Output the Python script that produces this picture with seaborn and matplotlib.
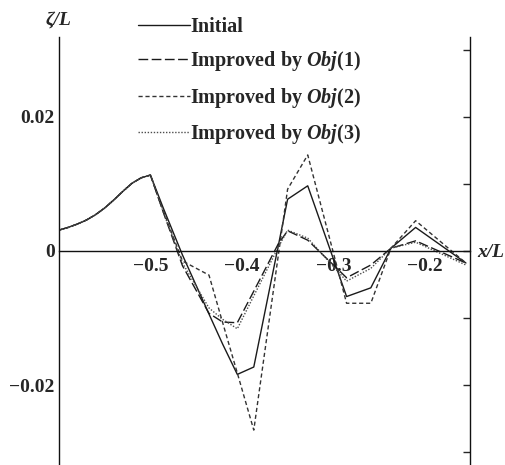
import numpy as np
import pandas as pd
import matplotlib
matplotlib.use("Agg")
import matplotlib.pyplot as plt
import seaborn as sns

# ---- data ----
x_common = [-0.60, -0.59, -0.58, -0.57, -0.56, -0.55, -0.54, -0.53, -0.52, -0.51]
y_common = [0.0031, 0.0035, 0.0040, 0.0046, 0.0054, 0.0064, 0.0076, 0.0089, 0.0101, 0.0109]

x_tail = [-0.500, -0.486, -0.465, -0.436, -0.421, -0.405, -0.387, -0.360, -0.350,
          -0.328, -0.2855, -0.259, -0.237, -0.210, -0.155]
y_initial = [0.0113, 0.0064, -0.0006, -0.0094, -0.0139, -0.0184, -0.0173, 0.0009, 0.0077,
             0.0097, -0.0068, -0.0055, 0.0004, 0.0035, -0.0018]
y_obj1 = [0.0113, 0.0058, -0.0022, -0.0093, -0.0106, -0.0107, -0.0060, 0.0011, 0.0030,
          0.0016, -0.0040, -0.0021, 0.0004, 0.0015, -0.0018]
y_obj2 = [0.0113, 0.0060, -0.0015, -0.0036, -0.0107, -0.0182, -0.0267, -0.0005, 0.0092,
          0.0143, -0.0078, -0.0078, 0.0004, 0.0045, -0.0018]
y_obj3 = [0.0113, 0.0058, -0.0018, -0.0085, -0.0102, -0.0116, -0.0067, 0.0006, 0.0031,
          0.0019, -0.0045, -0.0026, 0.0004, 0.0013, -0.0021]

labels = ["Initial", "Improved by $\\mathit{Obj}$(1)",
          "Improved by $\\mathit{Obj}$(2)", "Improved by $\\mathit{Obj}$(3)"]
x_major = [-0.5, -0.4, -0.3, -0.2]
x_minor = [-0.55, -0.45, -0.35, -0.25]
y_ticks = [-0.03, -0.02, -0.01, 0.0, 0.01, 0.02, 0.03]
y_labels = ["", "\u22120.02", "", "0", "", "0.02", ""]

sns.set_style("white")
plt.rcParams["font.family"] = ["Liberation Serif", "DejaVu Serif"]
plt.rcParams["font.weight"] = "bold"
plt.rcParams["mathtext.fontset"] = "custom"
plt.rcParams["mathtext.it"] = "Liberation Serif:italic:bold"
plt.rcParams["mathtext.rm"] = "Liberation Serif:bold"

fig = plt.figure(figsize=(5.05, 4.65), dpi=100)
ax = fig.add_axes([59 / 505, 0.0, (470.5 - 59) / 505, (465 - 37.5) / 465])

series = [y_initial, y_obj1, y_obj2, y_obj3]
styles = ["-", (0, (7, 2.5)), (0, (3, 2)), (0, (1, 1.2))]
colors = ["#1a1a1a", "#1a1a1a", "#333333", "#4d4d4d"]
for ys, lab, ls, c in zip(series, labels, styles, colors):
    df = pd.DataFrame({"x": x_common + x_tail, "y": y_common + ys})
    sns.lineplot(data=df, x="x", y="y", ax=ax, label=lab, linestyle=ls,
                 color=c, linewidth=1.0, estimator=None, sort=False)

ax.set_xlim(-0.6, -0.15)
ax.set_ylim(-0.0319, 0.0318)
ax.set_xlabel("")
ax.set_ylabel("")

ax.spines["top"].set_visible(False)
ax.spines["bottom"].set_position(("data", 0))
for s in ["left", "right", "bottom"]:
    ax.spines[s].set_color("#111111")
    ax.spines[s].set_linewidth(1.0)

ax.set_xticks(x_major)
ax.set_xticklabels(["\u22120.5", "\u22120.4", "\u22120.3", "\u22120.2"])
ax.set_xticks(x_minor, minor=True)
ax.set_yticks(y_ticks)
ax.set_yticklabels(y_labels)
ax.tick_params(axis="x", which="both", direction="in", length=5, width=1,
               pad=5, labelsize=14)
ax.tick_params(axis="y", which="both", direction="in", length=5, width=1,
               pad=3, labelsize=14, right=True, labelright=False)
for t in ax.get_xticklabels() + ax.get_yticklabels():
    t.set_fontweight("bold")

fig.text(59 / 505, 1 - 20 / 465, "\u03b6/L", ha="center", va="center",
         fontsize=14, fontweight="bold", fontstyle="italic")
fig.text(491 / 505, 1 - 252 / 465, "x/L", ha="center", va="center",
         fontsize=14, fontweight="bold", fontstyle="italic")

leg = ax.legend(loc="upper left", bbox_to_anchor=(138 / 505, 1 - 17 / 465),
                bbox_transform=fig.transFigure, frameon=False,
                handlelength=2.6, handletextpad=0.0, labelspacing=0.62,
                borderpad=0, borderaxespad=0, prop={"weight": "bold", "size": 14.5})

fig.savefig("out.png", dpi=100)
